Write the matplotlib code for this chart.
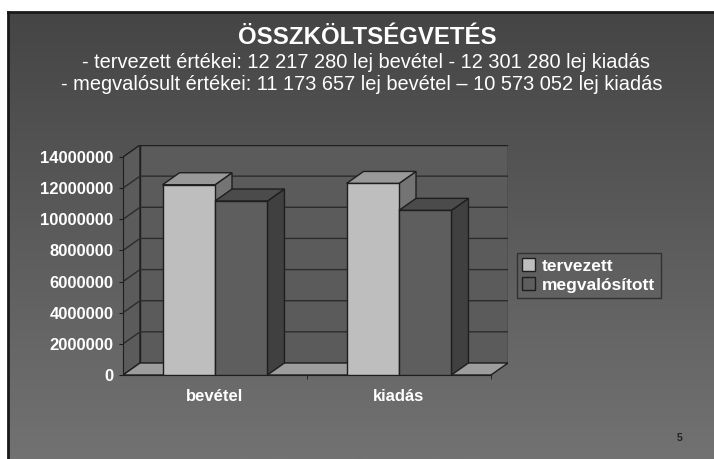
import numpy as np
import matplotlib.pyplot as plt
from matplotlib.patches import Polygon, Patch
from matplotlib.colors import LinearSegmentedColormap

plt.rcParams['font.family'] = ['Liberation Sans', 'DejaVu Sans']

# adatok
categories = ['bevétel', 'kiadás']
series_names = ['tervezett', 'megvalósított']
tervezett = [12217280, 12301280]
megvalositott = [11173657, 10573052]
y_ticks = [0, 2000000, 4000000, 6000000, 8000000, 10000000, 12000000, 14000000]

title = 'ÖSSZKÖLTSÉGVETÉS'
subtitle_1 = '- tervezett értékei: 12 217 280 lej bevétel - 12 301 280 lej kiadás'
subtitle_2 = '- megvalósult értékei: 11 173 657 lej bevétel – 10 573 052 lej kiadás'
page_no = '5'

W, H = 714, 459
fig = plt.figure(figsize=(W / 100, H / 100), dpi=100)
fig.patch.set_facecolor('white')

# dia hattere (fuggoleges szurke atmenet)
bg = fig.add_axes([8 / W, 0, (W - 8) / W, (H - 12) / H])
grad = np.linspace(0, 1, 256).reshape(-1, 1)
cmap = LinearSegmentedColormap.from_list('slide', ['#454545', '#727272'])
bg.imshow(grad, aspect='auto', cmap=cmap, extent=[0, 1, 0, 1], origin='upper')
bg.set_xticks([])
bg.set_yticks([])
bg.spines['right'].set_visible(False)
bg.spines['bottom'].set_visible(False)
bg.spines['top'].set_color('#1a1a1a')
bg.spines['left'].set_color('#1a1a1a')
bg.spines['top'].set_linewidth(2)
bg.spines['left'].set_linewidth(2)

# 3D oszlopdiagram
ax = fig.add_axes([123 / W, 84 / H, 385 / W, 230 / H])
ax.patch.set_visible(False)
ymax = y_ticks[-1]
x0, x1 = -0.5, len(categories) - 0.5
px_x = 368 / (x1 - x0)
px_y = 218 / ymax
dx = 17 / px_x      # melyseg x iranyban
dy = 12 / px_y      # melyseg y iranyban
ax.set_xlim(x0, x1 + dx)
ax.set_ylim(0, ymax + dy)

edge = '#1e1e1e'
wall_c = '#5b5b5b'
ax.add_patch(Polygon([(x0 + dx, dy), (x1 + dx, dy), (x1 + dx, ymax + dy), (x0 + dx, ymax + dy)],
                     closed=True, fc=wall_c, ec=edge, lw=1, zorder=1))
ax.add_patch(Polygon([(x0, 0), (x0 + dx, dy), (x0 + dx, ymax + dy), (x0, ymax)],
                     closed=True, fc=wall_c, ec=edge, lw=1, zorder=1))
ax.add_patch(Polygon([(x0, 0), (x1, 0), (x1 + dx, dy), (x0 + dx, dy)],
                     closed=True, fc='#9d9d9d', ec=edge, lw=1, zorder=1.5))
for t in y_ticks[1:-1]:
    ax.plot([x0, x0 + dx, x1 + dx], [t, t + dy, t + dy], color='#2c2c2c', lw=1, zorder=1.2)

w = 0.285
styles = [('#bebebe', '#999999', '#747474'), ('#5e5e5e', '#4b4b4b', '#404040')]
z = 3
for i in range(len(categories)):
    for j, vals in enumerate([tervezett, megvalositott]):
        v = vals[i]
        front, top, side = styles[j]
        x = i - w + j * w
        ax.add_patch(Polygon([(x + w, 0), (x + w + dx, dy), (x + w + dx, v + dy), (x + w, v)],
                             closed=True, fc=side, ec=edge, lw=1, zorder=z))
        ax.add_patch(Polygon([(x, v), (x + w, v), (x + w + dx, v + dy), (x + dx, v + dy)],
                             closed=True, fc=top, ec=edge, lw=1, zorder=z))
        ax.bar(x, v, width=w, align='edge', color=front, edgecolor=edge, lw=1, zorder=z + 0.5)
        z += 1

for s in ['top', 'right']:
    ax.spines[s].set_visible(False)
ax.spines['left'].set_bounds(0, ymax)
ax.spines['bottom'].set_bounds(x0, x1)
ax.spines['left'].set_color(edge)
ax.spines['bottom'].set_color(edge)

ax.set_yticks(y_ticks)
ax.set_yticklabels([str(t) for t in y_ticks], fontsize=12, fontweight='bold', color='white')
ax.tick_params(axis='y', length=3, color=edge, pad=4)
ax.set_xticks(range(len(categories)))
ax.set_xticklabels(categories, fontsize=12, fontweight='bold', color='white')
ax.tick_params(axis='x', which='major', length=0, pad=10)
ax.set_xticks([0.5, 1.5], minor=True)
ax.tick_params(axis='x', which='minor', length=3, color=edge)

handles = [Patch(fc=styles[0][0], ec=edge), Patch(fc=styles[1][0], ec=edge)]
leg = fig.legend(handles, series_names, loc='upper left', bbox_to_anchor=(517 / W, 1 - 253 / H),
                 frameon=True, fancybox=False, edgecolor='#262626', facecolor='none',
                 prop={'weight': 'bold', 'size': 12.5}, labelcolor='white',
                 handlelength=0.75, handleheight=0.75, handletextpad=0.4,
                 borderpad=0.3, labelspacing=0.2, borderaxespad=0)
leg.get_frame().set_linewidth(1)

fig.text(367 / W, 1 - 37 / H, title, ha='center', va='center', fontsize=17.3, fontweight='bold', color='white')
fig.text(366 / W, 1 - 63 / H, subtitle_1, ha='center', va='center', fontsize=14.4, color='white')
fig.text(362 / W, 1 - 85 / H, subtitle_2, ha='center', va='center', fontsize=14.4, color='white')
fig.text(680 / W, 1 - 438 / H, page_no, ha='center', va='center', fontsize=7.5, fontweight='bold', color='#222222')

fig.savefig('out.png', dpi=100)
